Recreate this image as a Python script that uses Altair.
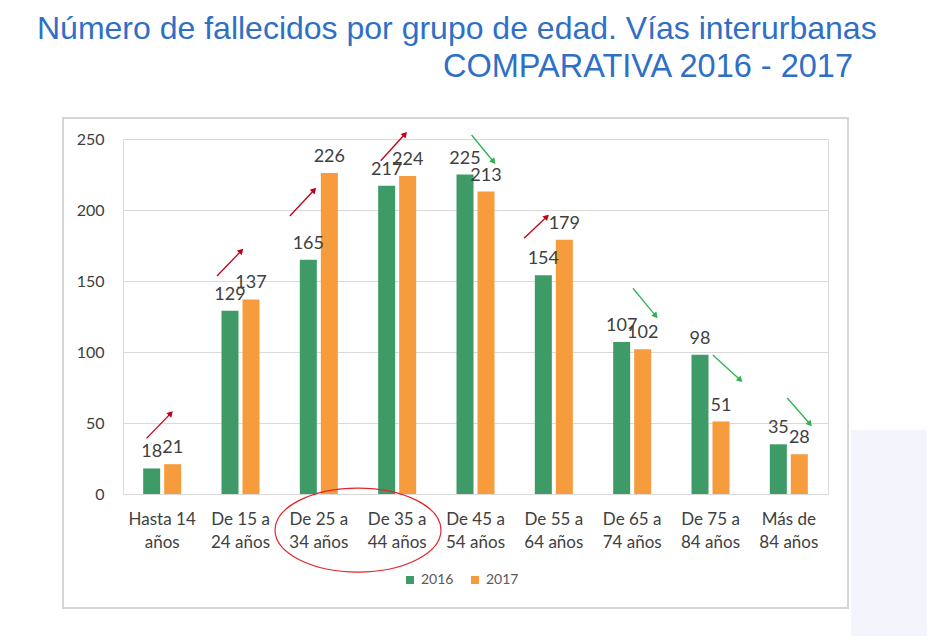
import math
import altair as alt
import pandas as pd

# ---- data ----
categories = ["Hasta 14\naños", "De 15 a\n24 años", "De 25 a\n34 años", "De 35 a\n44 años",
              "De 45 a\n54 años", "De 55 a\n64 años", "De 65 a\n74 años", "De 75 a\n84 años",
              "Más de\n84 años"]
years = ["2016", "2017"]
values_2016 = [18, 129, 165, 217, 225, 154, 107, 98, 35]
values_2017 = [21, 137, 226, 224, 213, 179, 102, 51, 28]

# trend arrows (category-index units, value units)
arrow_x1 = [0.30, 1.20, 2.13, 3.29, 4.45, 5.12, 6.51, 7.53, 8.48]
arrow_y1 = [39.2, 153.5, 195.8, 234.7, 252.8, 180.1, 144.9, 97.9, 67.6]
arrow_x2 = [0.61, 1.51, 2.44, 3.60, 4.73, 5.41, 6.80, 7.88, 8.77]
arrow_y2 = [56.8, 171.3, 214.1, 253.5, 234.0, 195.3, 125.4, 80.3, 49.3]
arrow_dir = ["sube", "sube", "sube", "sube", "baja", "sube", "baja", "baja", "baja"]

title_1 = "Número de fallecidos por grupo de edad. Vías interurbanas"
title_2 = "COMPARATIVA 2016 - 2017"

# ---- layout ----
W, H = 705, 355
YMAX = 250
GREEN, ORANGE = "#3E9B67", "#F69C3D"
RED_ARROW, GREEN_ARROW = "#C00018", "#2DB34E"
FONT = "Lato"

rows = []
for c, a, b in zip(categories, values_2016, values_2017):
    rows.append({"cat": c, "year": "2016", "value": a})
    rows.append({"cat": c, "year": "2017", "value": b})
df = pd.DataFrame(rows)

px_per_idx = W / len(categories)
px_per_val = H / YMAX
arr = pd.DataFrame({"x1": arrow_x1, "y1": arrow_y1, "x2": arrow_x2, "y2": arrow_y2, "dir": arrow_dir})
arr["angle"] = [
    (math.degrees(math.atan2((x2 - x1) * px_per_idx, (y2 - y1) * px_per_val)) + 360) % 360
    for x1, y1, x2, y2 in zip(arr.x1, arr.y1, arr.x2, arr.y2)
]

one = pd.DataFrame({"k": [0]})

band_scale = alt.Scale(paddingInner=0, paddingOuter=0)
xband = alt.X("cat:N", sort=categories, scale=band_scale,
              axis=alt.Axis(title=None, labelExpr="split(datum.label, '\\n')",
                            labelFontSize=17, labelFont=FONT, labelColor="#404040",
                            labelLineHeight=23, labelPadding=17, ticks=False,
                            domain=False, labelAngle=0, grid=False))
yq = alt.Y("value:Q", scale=alt.Scale(domain=[0, YMAX], nice=False),
           axis=alt.Axis(title=None, values=[0, 50, 100, 150, 200, 250],
                         labelFontSize=16, labelFont=FONT, labelColor="#404040",
                         labelPadding=19, ticks=False, domain=False,
                         gridColor="#D9D9D9", gridWidth=1))
off_scale = alt.Scale(paddingInner=0.19, paddingOuter=0.96)
xoff = alt.XOffset("year:N", sort=years, scale=off_scale)

frame = alt.Chart(one).mark_rect(fillOpacity=0, stroke="#D6D6D6", strokeWidth=2).encode(
    x=alt.value(-60), x2=alt.value(725), y=alt.value(-21), y2=alt.value(469))

lavender = alt.Chart(one).mark_rect(fill="#F4F4FC").encode(
    x=alt.value(728), x2=alt.value(804), y=alt.value(291), y2=alt.value(497))

bars = alt.Chart(df).mark_bar().encode(
    x=xband, y=yq, xOffset=xoff,
    color=alt.Color("year:N", sort=years,
                    scale=alt.Scale(domain=years, range=[GREEN, ORANGE]),
                    legend=alt.Legend(title=None, orient="none", direction="horizontal",
                                      legendX=280, legendY=434, symbolType="square",
                                      symbolSize=64, symbolStrokeWidth=0,
                                      labelFontSize=14, labelFont=FONT,
                                      labelColor="#595959", columnPadding=14,
                                      labelOffset=4, padding=0)))

labels = alt.Chart(df).mark_text(fontSize=18, font=FONT, color="#404040", dy=-11,
                                 baseline="alphabetic").encode(
    x=alt.X("cat:N", sort=categories, scale=band_scale, axis=None),
    y=alt.Y("value:Q"),
    xOffset=alt.XOffset("year:N", sort=years, scale=off_scale),
    text="value:Q")

xq = alt.Scale(domain=[0, len(categories)], nice=False, zero=False)
arrow_color = alt.Color("dir:N", scale=alt.Scale(domain=["sube", "baja"],
                                                 range=[RED_ARROW, GREEN_ARROW]), legend=None)
arrows = alt.Chart(arr).mark_rule(strokeWidth=1.3).encode(
    x=alt.X("x1:Q", scale=xq, axis=None), x2="x2:Q",
    y=alt.Y("y1:Q"), y2="y2:Q", color=arrow_color)
heads = alt.Chart(arr).mark_point(shape="triangle-up", filled=True, size=45, opacity=1).encode(
    x=alt.X("x2:Q", scale=xq, axis=None), y=alt.Y("y2:Q"),
    angle=alt.Angle("angle:Q", scale=None), color=arrow_color)

ellipse_path = ("M 1 0 C 1 0.2795 0.5523 0.506 0 0.506 C -0.5523 0.506 -1 0.2795 -1 0 "
                "C -1 -0.2795 -0.5523 -0.506 0 -0.506 C 0.5523 -0.506 1 -0.2795 1 0 Z")
ell_df = pd.DataFrame({"ex": [3.0], "ey": [-25.4]})
ellipse = alt.Chart(ell_df).mark_point(shape=ellipse_path, filled=False, size=166 * 166,
                                       stroke="#E3262A", strokeWidth=1.2, opacity=1).encode(
    x=alt.X("ex:Q", scale=xq, axis=None), y=alt.Y("ey:Q"))

t1 = alt.Chart(one).mark_text(text=title_1, font="Liberation Sans", fontSize=32,
                              color="#2F6FC6", align="left", baseline="alphabetic").encode(
    x=alt.value(-86), y=alt.value(-100))
t2 = alt.Chart(one).mark_text(text=title_2, font="Liberation Sans", fontSize=32.5,
                              color="#2F6FC6", align="right", baseline="alphabetic").encode(
    x=alt.value(730), y=alt.value(-62))

chart = alt.layer(frame, lavender, bars, labels, arrows, heads, ellipse, t1, t2).resolve_scale(
    x="independent", color="independent"
).properties(
    width=W, height=H,
    autosize=alt.AutoSizeParams(type="none"),
    padding={"left": 115, "top": 131, "right": 99, "bottom": 142},
).configure_view(stroke=None).configure(background="white")

chart.save("out.html", embed_options={"renderer": "svg", "actions": False})
